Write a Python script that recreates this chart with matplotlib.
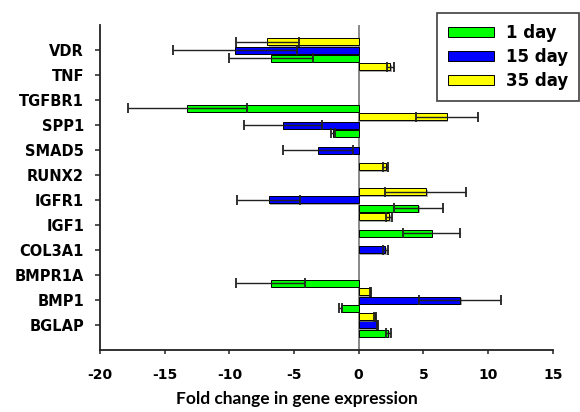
import numpy as np
import matplotlib
matplotlib.use('Agg')
import matplotlib.pyplot as plt
import matplotlib.patheffects as pe

plt.rcParams['axes.unicode_minus'] = False

nan = np.nan

# Genes, haut -> bas
genes = ['VDR', 'TNF', 'TGFBR1', 'SPP1', 'SMAD5', 'RUNX2',
         'IGFR1', 'IGF1', 'COL3A1', 'BMPR1A', 'BMP1', 'BGLAP']

day1 = [-6.8, nan, -13.25, -2.0, nan, nan, 4.6, 5.65, nan, -6.8, -1.4, 2.3]
day1_err = [3.25, nan, 4.6, 0.17, nan, nan, 1.9, 2.2, nan, 2.65, 0.1, 0.2]

day15 = [-9.55, nan, nan, -5.85, -3.15, nan, -6.95, nan, 2.05, nan, 7.85, 1.45]
day15_err = [4.8, nan, nan, 3.0, 2.72, nan, 2.45, nan, 0.2, nan, 3.15, 0.05]

day35 = [-7.05, 2.45, nan, 6.8, nan, 2.1, 5.2, 2.35, nan, nan, 0.9, 1.25]
day35_err = [2.42, 0.27, nan, 2.4, nan, 0.2, 3.13, 0.2, nan, nan, 0.06, 0.07]

series = [
    ('1 day', day1, day1_err, '#00ff00', -0.33),
    ('15 day', day15, day15_err, '#0000ff', 0.0),
    ('35 day', day35, day35_err, '#ffff00', 0.33),
]

fig = plt.figure(figsize=(5.8, 4.12), dpi=100)
ax = fig.add_axes([100 / 580, 1 - 350 / 412, 452.7 / 580, 325 / 412])

ypos = np.arange(len(genes))[::-1]  # VDR en haut
shadow = [pe.SimplePatchShadow(offset=(1.2, -1.2), shadow_rgbFace='#888888', alpha=0.7), pe.Normal()]

handles = []
for label, vals, errs, color, off in series:
    vals = np.array(vals, dtype=float)
    errs = np.array(errs, dtype=float)
    ok = ~np.isnan(vals)
    bars = ax.barh(ypos[ok] + off, vals[ok], height=0.28, color=color,
                   edgecolor='black', linewidth=0.7, zorder=3)
    for b in bars:
        b.set_path_effects(shadow)
    ax.errorbar(vals[ok], ypos[ok] + off, xerr=errs[ok], fmt='none',
                ecolor='#222222', elinewidth=1.0, capsize=3.5, capthick=1.3, zorder=4)
    handles.append(plt.Rectangle((0, 0), 1, 1, facecolor=color, edgecolor='black', linewidth=0.7))

ax.axvline(0, color='#808080', linewidth=1.3, zorder=2)

ax.set_xlim(-20, 15)
ax.set_ylim(-1, 12)
ax.set_xticks(np.arange(-20, 16, 5))
ax.set_yticks(ypos)
ax.set_yticklabels(genes)

for s in ['top', 'right']:
    ax.spines[s].set_visible(False)
for s in ['left', 'bottom']:
    ax.spines[s].set_linewidth(1.3)
    ax.spines[s].set_color('#222222')

ax.tick_params(axis='x', length=3, width=1.1, pad=10, labelsize=10, color='#222222')
ax.tick_params(axis='y', length=3.5, width=1.1, pad=8, labelsize=10.5, color='#222222')
for t in ax.get_xticklabels() + ax.get_yticklabels():
    t.set_fontweight('bold')
    t.set_family('DejaVu Sans')

# titre de l'axe x (un peu decale a gauche comme dans l'original)
fig.text(297 / 580, 1 - 404 / 412, 'Fold change in gene expression', ha='center', va='baseline',
         family='Lato', fontweight='bold', fontsize=12.5)

leg = fig.legend(handles, [s[0] for s in series], loc='upper right',
                 bbox_to_anchor=(579 / 580, 1 - 13 / 412), borderaxespad=0,
                 prop={'family': 'DejaVu Sans', 'weight': 'bold', 'size': 12},
                 handlelength=2.75, handleheight=0.54, handletextpad=0.72,
                 labelspacing=0.36, borderpad=0.65, fancybox=False, framealpha=1)
leg.get_frame().set_edgecolor('#404040')
leg.get_frame().set_linewidth(1.2)

fig.savefig('out.png', dpi=100)
